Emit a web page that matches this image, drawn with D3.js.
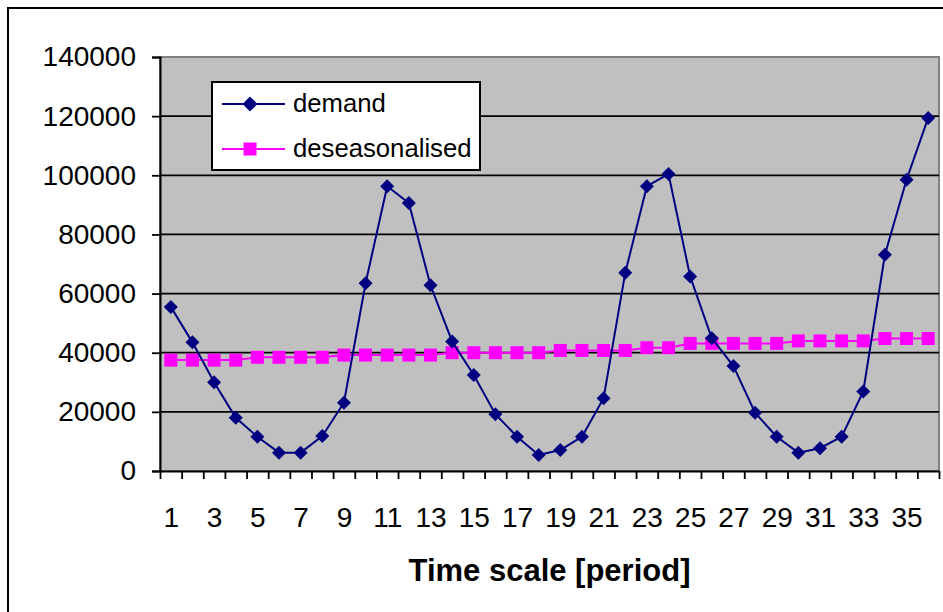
<!DOCTYPE html>
<html>
<head>
<meta charset="utf-8">
<script src="https://cdn.jsdelivr.net/npm/d3@7/dist/d3.min.js"></script>
<style>
  html, body { margin: 0; padding: 0; background: #ffffff; }
  svg { display: block; }
  text { font-family: "Liberation Sans", Arial, Helvetica, sans-serif; fill: #000; }
</style>
</head>
<body>
<script>
// Periods 1..36
const periods = d3.range(1, 37);

// Observed demand per period
const demand = [
  55500, 43500, 30000, 18000, 11600, 6200, 6200, 11800, 23100, 63500,
  96300, 90600, 62800, 43800, 32500, 19200, 11600, 5400, 7100, 11600,
  24600, 67000, 96300, 100400, 65800, 44900, 35500, 19700, 11600, 6200,
  7700, 11600, 26900, 73100, 98500, 119400
];

// Deseasonalised demand per period
const deseasonalised = [
  37500, 37500, 37500, 37500, 38450, 38450, 38450, 38450, 39200, 39200,
  39200, 39200, 39200, 40000, 40000, 40000, 40000, 40000, 40750, 40750,
  40750, 40750, 41700, 41700, 43150, 43150, 43150, 43150, 43150, 44000,
  44000, 44000, 44000, 44800, 44800, 44800
];

const yTicks = [0, 20000, 40000, 60000, 80000, 100000, 120000, 140000];
const xLabels = periods.filter(p => p % 2 === 1);
const seriesNames = ["demand", "deseasonalised"];

const W = 943, H = 612;
const plot = { left: 160, right: 939, top: 57, bottom: 471 };

const svg = d3.select("body").append("svg")
  .attr("width", W).attr("height", H);

// Chart frame
svg.append("rect")
  .attr("x", 8).attr("y", 8).attr("width", 960).attr("height", 640)
  .attr("fill", "#fff").attr("stroke", "#000").attr("stroke-width", 2);

const x = d3.scaleLinear().domain([0.5, 36.5]).range([plot.left, plot.right]);
const y = d3.scaleLinear().domain([0, 140000]).range([plot.bottom, plot.top]);

// Plot area background
svg.append("rect")
  .attr("x", plot.left).attr("y", plot.top)
  .attr("width", plot.right - plot.left).attr("height", plot.bottom - plot.top)
  .attr("fill", "#c0c0c0").attr("stroke", "#808080").attr("stroke-width", 2);

// Horizontal gridlines
svg.append("g").selectAll("line")
  .data(yTicks.filter(v => v > 0 && v < 140000))
  .join("line")
  .attr("x1", plot.left).attr("x2", plot.right)
  .attr("y1", d => y(d)).attr("y2", d => y(d))
  .attr("stroke", "#000").attr("stroke-width", 1.8);

// Y axis
const yAxis = svg.append("g")
  .attr("transform", `translate(${plot.left},0)`)
  .call(d3.axisLeft(y).tickValues(yTicks).tickFormat(d3.format("d"))
    .tickSize(8).tickPadding(16));
yAxis.select(".domain").attr("stroke", "#000").attr("stroke-width", 2);
yAxis.selectAll(".tick line").attr("stroke", "#000").attr("stroke-width", 1.8);
yAxis.selectAll("text").attr("font-size", 28).attr("font-family", null);

// X axis: ticks between categories
const xAxis = svg.append("g")
  .attr("transform", `translate(0,${plot.bottom})`)
  .call(d3.axisBottom(x).tickValues(d3.range(0.5, 37, 1)).tickFormat("")
    .tickSize(8).tickSizeOuter(0));
xAxis.select(".domain").attr("stroke", "#000").attr("stroke-width", 2);
xAxis.selectAll(".tick line").attr("stroke", "#000").attr("stroke-width", 1.8);

// X labels (every other period)
const xLab = svg.append("g")
  .attr("transform", `translate(0,${plot.bottom})`)
  .call(d3.axisBottom(x).tickValues(xLabels).tickFormat(d3.format("d"))
    .tickSize(0).tickPadding(36));
xLab.select(".domain").remove();
xLab.selectAll("text").attr("font-size", 28).attr("font-family", null);

// X axis title
svg.append("text")
  .attr("x", (plot.left + plot.right) / 2).attr("y", 581)
  .attr("text-anchor", "middle")
  .attr("font-size", 31).attr("font-weight", "bold")
  .text("Time scale [period]");

const navy = "#000080", magenta = "#ff00ff";
const line = d3.line().x((d, i) => x(periods[i])).y(d => y(d));

// Deseasonalised series
svg.append("path").datum(deseasonalised)
  .attr("d", line).attr("fill", "none")
  .attr("stroke", magenta).attr("stroke-width", 2);
svg.append("g").selectAll("rect")
  .data(deseasonalised).join("rect")
  .attr("x", (d, i) => x(periods[i]) - 6.5).attr("y", d => y(d) - 6.5)
  .attr("width", 13).attr("height", 13).attr("fill", magenta);

// Demand series
const diamond = (cx, cy, r) => `M${cx},${cy - r}L${cx + r},${cy}L${cx},${cy + r}L${cx - r},${cy}Z`;
svg.append("path").datum(demand)
  .attr("d", line).attr("fill", "none")
  .attr("stroke", navy).attr("stroke-width", 2);
svg.append("g").selectAll("path")
  .data(demand).join("path")
  .attr("d", (d, i) => diamond(x(periods[i]), y(d), 7))
  .attr("fill", navy);

// Legend
const lg = svg.append("g");
lg.append("rect")
  .attr("x", 212).attr("y", 82).attr("width", 268).attr("height", 88)
  .attr("fill", "#fff").attr("stroke", "#000").attr("stroke-width", 2);
const items = [
  { name: seriesNames[0], color: navy, shape: "diamond", cy: 104 },
  { name: seriesNames[1], color: magenta, shape: "square", cy: 149 }
];
items.forEach(it => {
  lg.append("line").attr("x1", 222).attr("x2", 285)
    .attr("y1", it.cy).attr("y2", it.cy)
    .attr("stroke", it.color).attr("stroke-width", 2);
  if (it.shape === "diamond") {
    lg.append("path").attr("d", diamond(250, it.cy, 7.5)).attr("fill", it.color);
  } else {
    lg.append("rect").attr("x", 243.5).attr("y", it.cy - 6.5)
      .attr("width", 13).attr("height", 13).attr("fill", it.color);
  }
  lg.append("text").attr("x", 293).attr("y", it.cy + 8)
    .attr("font-size", 25.7).text(it.name);
});
</script>
</body>
</html>
